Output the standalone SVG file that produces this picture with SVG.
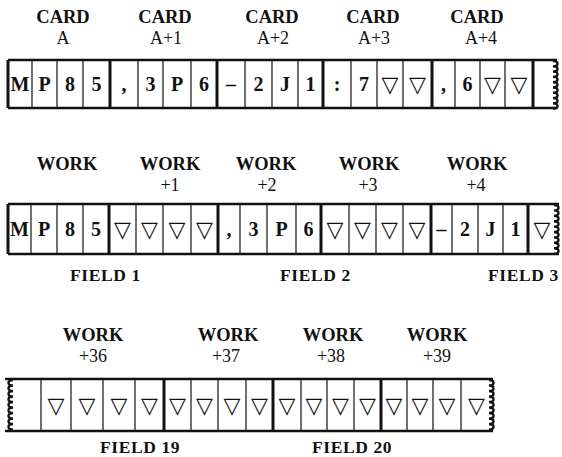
<svg xmlns="http://www.w3.org/2000/svg" width="562" height="457" viewBox="0 0 562 457">
<style>
.lbl{font-family:"Liberation Serif",serif;font-size:18.5px;font-weight:bold;fill:#111;text-anchor:middle}
.sub{font-family:"Liberation Serif",serif;font-size:18px;fill:#111;text-anchor:middle}
.fld{font-family:"Liberation Serif",serif;font-size:17.5px;font-weight:bold;fill:#111;letter-spacing:0.6px}
.ch{font-family:"Liberation Serif",serif;font-size:20px;font-weight:bold;fill:#111;text-anchor:middle}
.tri{font-family:"DejaVu Sans",sans-serif;font-size:22px;fill:#111;text-anchor:middle}
.edge{stroke:#111;stroke-width:2.5;fill:none}
.thin{stroke:#111;stroke-width:1.2}
.thick{stroke:#111;stroke-width:3}
.wave{stroke:#111;stroke-width:2.4;fill:none}
</style>

<g id="labels-row1">
<text class="lbl" x="63" y="23">CARD</text><text class="sub" x="63" y="44">A</text>
<text class="lbl" x="165" y="23">CARD</text><text class="sub" x="166" y="44">A+1</text>
<text class="lbl" x="272" y="23">CARD</text><text class="sub" x="273" y="44">A+2</text>
<text class="lbl" x="373" y="23">CARD</text><text class="sub" x="374" y="44">A+3</text>
<text class="lbl" x="477" y="23">CARD</text><text class="sub" x="481" y="44">A+4</text>
</g>

<g id="tape-cards">
<line class="edge" x1="8" y1="60" x2="557" y2="60"/>
<line class="edge" x1="8" y1="108" x2="557" y2="108"/>
<g class="thick"><line x1="8" y1="60" x2="8" y2="108"/><line x1="110" y1="60" x2="110" y2="108"/><line x1="217" y1="60" x2="217" y2="108"/><line x1="323" y1="60" x2="323" y2="108"/><line x1="432" y1="60" x2="432" y2="108"/><line x1="533" y1="60" x2="533" y2="108"/></g>
<g class="thin"><line x1="32" y1="60" x2="32" y2="108"/><line x1="57" y1="60" x2="57" y2="108"/><line x1="83" y1="60" x2="83" y2="108"/><line x1="138" y1="60" x2="138" y2="108"/><line x1="163" y1="60" x2="163" y2="108"/><line x1="191" y1="60" x2="191" y2="108"/><line x1="245" y1="60" x2="245" y2="108"/><line x1="272" y1="60" x2="272" y2="108"/><line x1="298" y1="60" x2="298" y2="108"/><line x1="351" y1="60" x2="351" y2="108"/><line x1="377" y1="60" x2="377" y2="108"/><line x1="403" y1="60" x2="403" y2="108"/><line x1="455" y1="60" x2="455" y2="108"/><line x1="480" y1="60" x2="480" y2="108"/><line x1="505" y1="60" x2="505" y2="108"/></g>
<path class="wave" d="M553 61 c6 0 6 5.3 0 5.3 c6 0 6 5.3 0 5.3 c6 0 6 5.3 0 5.3 c6 0 6 5.3 0 5.3 c6 0 6 5.3 0 5.3 c6 0 6 5.3 0 5.3 c6 0 6 5.3 0 5.3 c6 0 6 5.3 0 5.3 c6 0 6 5.3 0 5.3"/>
<text class="ch" x="20" y="91">M</text><text class="ch" x="44.5" y="91">P</text><text class="ch" x="70" y="91">8</text><text class="ch" x="96.5" y="91">5</text>
<text class="ch" x="124" y="91">,</text><text class="ch" x="150.5" y="91">3</text><text class="ch" x="177" y="91">P</text><text class="ch" x="204" y="91">6</text>
<text class="ch" x="231" y="91">–</text><text class="ch" x="258.5" y="91">2</text><text class="ch" x="285" y="91">J</text><text class="ch" x="310.5" y="91">1</text>
<text class="ch" x="337" y="91">:</text><text class="ch" x="364" y="91">7</text><text class="tri" x="390" y="92">▽</text><text class="tri" x="417.5" y="92">▽</text>
<text class="ch" x="443.5" y="91">,</text><text class="ch" x="467.5" y="91">6</text><text class="tri" x="492.5" y="92">▽</text><text class="tri" x="519" y="92">▽</text>
</g>

<g id="labels-row2">
<text class="lbl" x="67" y="170">WORK</text>
<text class="lbl" x="170" y="170">WORK</text><text class="sub" x="170" y="191">+1</text>
<text class="lbl" x="266" y="170">WORK</text><text class="sub" x="267" y="191">+2</text>
<text class="lbl" x="369" y="170">WORK</text><text class="sub" x="368" y="191">+3</text>
<text class="lbl" x="477" y="170">WORK</text><text class="sub" x="476" y="191">+4</text>
</g>

<g id="tape-work">
<line class="edge" x1="8" y1="204" x2="559" y2="204"/>
<line class="edge" x1="8" y1="254" x2="559" y2="254"/>
<g class="thick"><line x1="8" y1="204" x2="8" y2="254"/><line x1="109" y1="204" x2="109" y2="254"/><line x1="218" y1="204" x2="218" y2="254"/><line x1="321" y1="204" x2="321" y2="254"/><line x1="431" y1="204" x2="431" y2="254"/><line x1="528" y1="204" x2="528" y2="254"/></g>
<g class="thin"><line x1="31" y1="204" x2="31" y2="254"/><line x1="57" y1="204" x2="57" y2="254"/><line x1="83" y1="204" x2="83" y2="254"/><line x1="136" y1="204" x2="136" y2="254"/><line x1="163" y1="204" x2="163" y2="254"/><line x1="191" y1="204" x2="191" y2="254"/><line x1="240" y1="204" x2="240" y2="254"/><line x1="267" y1="204" x2="267" y2="254"/><line x1="296" y1="204" x2="296" y2="254"/><line x1="349" y1="204" x2="349" y2="254"/><line x1="376" y1="204" x2="376" y2="254"/><line x1="403" y1="204" x2="403" y2="254"/><line x1="452" y1="204" x2="452" y2="254"/><line x1="478" y1="204" x2="478" y2="254"/><line x1="503" y1="204" x2="503" y2="254"/></g>
<path class="wave" d="M554 205 c6 0 6 5.4 0 5.4 c6 0 6 5.4 0 5.4 c6 0 6 5.4 0 5.4 c6 0 6 5.4 0 5.4 c6 0 6 5.4 0 5.4 c6 0 6 5.4 0 5.4 c6 0 6 5.4 0 5.4 c6 0 6 5.4 0 5.4 c6 0 6 5.4 0 5.4"/>
<text class="ch" x="19.5" y="236">M</text><text class="ch" x="44" y="236">P</text><text class="ch" x="70" y="236">8</text><text class="ch" x="96" y="236">5</text>
<text class="tri" x="122.5" y="237">▽</text><text class="tri" x="149.5" y="237">▽</text><text class="tri" x="177" y="237">▽</text><text class="tri" x="204.5" y="237">▽</text>
<text class="ch" x="229" y="236">,</text><text class="ch" x="253.5" y="236">3</text><text class="ch" x="281.5" y="236">P</text><text class="ch" x="308.5" y="236">6</text>
<text class="tri" x="335" y="237">▽</text><text class="tri" x="362.5" y="237">▽</text><text class="tri" x="389.5" y="237">▽</text><text class="tri" x="417" y="237">▽</text>
<text class="ch" x="441.5" y="236">–</text><text class="ch" x="465" y="236">2</text><text class="ch" x="490.5" y="236">J</text><text class="ch" x="515.5" y="236">1</text>
<text class="tri" x="542" y="237">▽</text>
</g>

<g id="fields-row2">
<text class="fld" x="70" y="281">FIELD 1</text>
<text class="fld" x="280" y="281">FIELD 2</text>
<text class="fld" x="488" y="281">FIELD 3</text>
</g>

<g id="labels-row3">
<text class="lbl" x="93" y="341">WORK</text><text class="sub" x="93" y="362">+36</text>
<text class="lbl" x="228" y="341">WORK</text><text class="sub" x="226" y="362">+37</text>
<text class="lbl" x="333" y="341">WORK</text><text class="sub" x="331" y="362">+38</text>
<text class="lbl" x="437" y="341">WORK</text><text class="sub" x="437" y="362">+39</text>
</g>

<g id="tape-work-end">
<line class="edge" x1="5" y1="379" x2="493" y2="379"/>
<line class="edge" x1="5" y1="431" x2="493" y2="431"/>
<path class="wave" d="M13 380 c-6 0 -6 5.5 0 5.5 c-6 0 -6 5.5 0 5.5 c-6 0 -6 5.5 0 5.5 c-6 0 -6 5.5 0 5.5 c-6 0 -6 5.5 0 5.5 c-6 0 -6 5.5 0 5.5 c-6 0 -6 5.5 0 5.5 c-6 0 -6 5.5 0 5.5 c-6 0 -6 5.5 0 5.5"/>
<path class="wave" d="M489 380 c6 0 6 5.5 0 5.5 c6 0 6 5.5 0 5.5 c6 0 6 5.5 0 5.5 c6 0 6 5.5 0 5.5 c6 0 6 5.5 0 5.5 c6 0 6 5.5 0 5.5 c6 0 6 5.5 0 5.5 c6 0 6 5.5 0 5.5 c6 0 6 5.5 0 5.5"/>
<g class="thick"><line x1="164" y1="379" x2="164" y2="431"/><line x1="273" y1="379" x2="273" y2="431"/><line x1="381" y1="379" x2="381" y2="431"/></g>
<g class="thin"><line x1="41" y1="379" x2="41" y2="431"/><line x1="71" y1="379" x2="71" y2="431"/><line x1="103" y1="379" x2="103" y2="431"/><line x1="135" y1="379" x2="135" y2="431"/><line x1="191" y1="379" x2="191" y2="431"/><line x1="218" y1="379" x2="218" y2="431"/><line x1="246" y1="379" x2="246" y2="431"/><line x1="301" y1="379" x2="301" y2="431"/><line x1="327" y1="379" x2="327" y2="431"/><line x1="354" y1="379" x2="354" y2="431"/><line x1="407" y1="379" x2="407" y2="431"/><line x1="433" y1="379" x2="433" y2="431"/><line x1="461" y1="379" x2="461" y2="431"/></g>
<text class="tri" x="56" y="413">▽</text><text class="tri" x="87" y="413">▽</text><text class="tri" x="119" y="413">▽</text><text class="tri" x="149.5" y="413">▽</text>
<text class="tri" x="177.5" y="413">▽</text><text class="tri" x="204.5" y="413">▽</text><text class="tri" x="232" y="413">▽</text><text class="tri" x="259.5" y="413">▽</text>
<text class="tri" x="287" y="413">▽</text><text class="tri" x="314" y="413">▽</text><text class="tri" x="340.5" y="413">▽</text><text class="tri" x="367.5" y="413">▽</text>
<text class="tri" x="394" y="413">▽</text><text class="tri" x="420" y="413">▽</text><text class="tri" x="447" y="413">▽</text><text class="tri" x="476.5" y="413">▽</text>
</g>

<g id="fields-row3">
<text class="fld" x="100" y="453">FIELD 19</text>
<text class="fld" x="312" y="453">FIELD 20</text>
</g>
</svg>
